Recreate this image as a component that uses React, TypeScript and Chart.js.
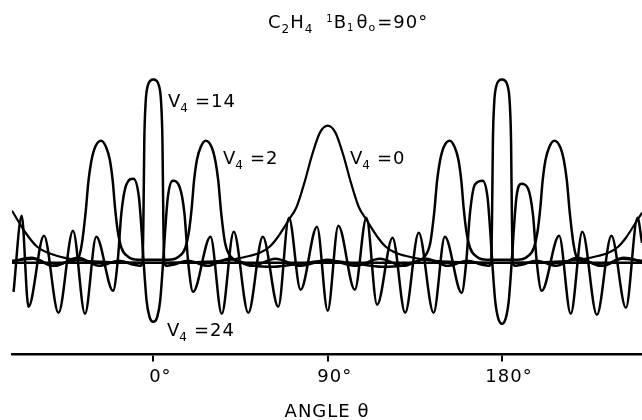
import React, { useEffect, useRef } from "react";
import { Chart, registerables } from "chart.js";

Chart.register(...registerables);

const FONT = '"DejaVu Sans", "Liberation Sans", sans-serif';

// ---- axis ----
const xMin = -73;
const xMax = 252.3;
const yMin = -91.5;
const yMax = 222.5;
const xTickValues = [0, 90, 180];
const xTitle = "ANGLE θ";

// ---- series: [angle θ (deg), amplitude] ----
const v0Points: number[][] = [
  [-73, 52], [-66, 30], [-60, 16], [-50, 7], [-40, 3], [-25, 1], [0, 0], [25, 1], [40, 3],
  [50, 7], [55, 10], [60, 16], [64, 25], [70, 43], [74, 56], [78, 80], [82, 108], [86, 130],
  [90, 137], [94, 130], [98, 108], [102, 80], [106, 56], [110, 43], [116, 25], [120, 16],
  [125, 10], [130, 7], [140, 3], [155, 1], [180, 0], [205, 1], [220, 3], [230, 7], [235, 10],
  [240, 16], [244, 25], [250, 43], [252.3, 50],
];

const v2Points: number[][] = [
  [-73, 2], [-62, 4], [-52, -3], [-44, 1], [-39, 4], [-37, 18], [-35, 50], [-33.5, 82],
  [-32, 102], [-30, 116], [-27, 122], [-24.5, 116], [-22.5, 103], [-21, 82], [-19.8, 55],
  [-18.5, 33], [-16.5, 15], [-13, 6], [-8, 3], [0, 3], [8, 3], [13, 6], [16.5, 15], [18.5, 33],
  [19.8, 55], [21, 82], [22.5, 103], [24.5, 116], [27, 122], [30, 116], [32, 102], [33.5, 82],
  [35, 50], [37, 20], [40, 6], [45, 1], [52, -3], [62, -4], [75, -1], [90, 2], [105, -1],
  [118, -4], [128, -3], [135, 1], [140, 6], [143, 20], [145, 50], [146.5, 82], [148, 102],
  [150, 116], [153, 122], [155.5, 116], [157.5, 103], [159, 82], [160.2, 55], [161.5, 33],
  [163.5, 15], [167, 6], [172, 3], [180, 3], [188, 3], [193, 6], [196.5, 15], [198.5, 33],
  [199.8, 55], [201, 82], [202.5, 103], [204.5, 116], [207, 122], [210, 116], [212, 102],
  [213.5, 82], [215, 50], [217, 18], [219, 4], [224, 1], [232, -3], [242, 4], [252.3, 2],
];

const v14Points: number[][] = [
  [-73, 1], [-63, 5], [-51, -3], [-39, 5], [-28, -3], [-18, 2], [-10, -2], [-7, -3],
  [-5.6, 0], [-5.1, 50], [-4.7, 120], [-4, 160], [-3, 176], [-1.5, 182], [0, 183],
  [1.5, 182], [3, 176], [4, 160], [4.7, 120], [5.1, 50], [5.6, 0], [7, -3], [10, -2],
  [18, 2], [28, -3], [39, 4], [51, -3], [63, 4], [76, -3], [90, 3], [104, -3], [117, 4],
  [129, -3], [141, 4], [152, -3], [162, 2], [170, -2], [173, -3], [174.4, 0], [174.9, 50],
  [175.3, 120], [176, 160], [177, 176], [178.5, 182], [180, 183], [181.5, 182], [183, 176],
  [184, 160], [184.7, 120], [185.1, 50], [185.6, 0], [187, -3], [190, -2], [198, 2],
  [208, -3], [219, 5], [231, -3], [243, 5], [252.3, 1],
];

const v24Points: number[][] = [
  [-72.2, -29], [-68, 47], [-64.5, -44], [-56.5, 27], [-49, -50], [-41.5, 32], [-35.3, -51],
  [-29.5, 26], [-20.8, -28], [-18.5, 0], [-16.5, 50], [-14, 78], [-10.3, 84], [-7.5, 66],
  [-6, 30], [-5, 0], [-3.5, -38], [-2, -54], [0, -59], [2, -54], [3.5, -38], [5, 0],
  [6, 30], [7.5, 66], [10, 82], [13.5, 76], [16, 50], [18, 0], [20.5, -29], [29.5, 26],
  [35.3, -51], [41.5, 31], [49, -50], [56.5, 26], [64.5, -44], [70, 45], [76, -27],
  [84.5, 36], [90, -48], [95.5, 37], [104, -27], [110, 45], [115.5, -42], [123.5, 25],
  [130, -50], [137, 30], [144.7, -50], [150.5, 26], [159.2, -30], [161.5, 0], [163.5, 50],
  [166, 78], [170, 82], [172.5, 66], [174, 30], [175, 0], [176.5, -38], [178, -55],
  [180, -61], [182, -55], [183.5, -38], [185, 0], [186, 30], [187.5, 66], [190, 79],
  [193.5, 74], [196, 48], [198, 0], [200.5, -28], [209.5, 27], [215.5, -51], [221.5, 31],
  [229, -52], [236.5, 27], [244, -45], [250, 45], [252.3, 20],
];

const zeroLine: number[][] = [[-73, 0], [252.3, 0]];

// ---- labels ----
const seriesLevels = ["0", "2", "14", "24"];

type Seg = { t: string; size: number; dy: number; gap?: number };

function drawRich(ctx: CanvasRenderingContext2D, x: number, y: number, segs: Seg[]) {
  let cx = x;
  for (const s of segs) {
    ctx.font = `${s.size}px ${FONT}`;
    cx += s.gap ?? 0;
    ctx.fillText(s.t, cx, y + s.dy);
    cx += ctx.measureText(s.t).width;
  }
}

function vLabel(level: string): Seg[] {
  return [
    { t: "V", size: 18, dy: 0 },
    { t: "4", size: 12, dy: 5, gap: -1 },
    { t: "=" + level, size: 18, dy: 0, gap: 6 },
  ];
}

const textPlugin = {
  id: "figureText",
  beforeDraw(chart: any) {
    (chart.ctx as any).letterSpacing = "1px";
  },
  afterDraw(chart: any) {
    const ctx: CanvasRenderingContext2D = chart.ctx;
    ctx.save();
    (ctx as any).letterSpacing = "1px";
    ctx.fillStyle = "#000";
    ctx.textBaseline = "alphabetic";
    ctx.textAlign = "left";
    // title
    drawRich(ctx, 268, 28, [
      { t: "C", size: 18, dy: 0 },
      { t: "2", size: 12, dy: 5 },
      { t: "H", size: 18, dy: 0 },
      { t: "4", size: 12, dy: 5 },
      { t: "1", size: 10, dy: -6, gap: 13 },
      { t: "B", size: 18, dy: 0 },
      { t: "1", size: 10, dy: 3 },
      { t: "θ", size: 18, dy: 0, gap: 2 },
      { t: "o", size: 11, dy: 3 },
      { t: "=90°", size: 18, dy: 0, gap: 1 },
    ]);
    // series labels
    drawRich(ctx, 350, 164, vLabel(seriesLevels[0]));
    drawRich(ctx, 223, 164, vLabel(seriesLevels[1]));
    drawRich(ctx, 168, 107, vLabel(seriesLevels[2]));
    drawRich(ctx, 167, 336, vLabel(seriesLevels[3]));
    ctx.restore();
  },
};

const toXY = (p: number[][]) => p.map(([x, y]) => ({ x, y }));

export default function App() {
  const ref = useRef<HTMLCanvasElement | null>(null);
  useEffect(() => {
    if (!ref.current) return;
    const line = (label: string, pts: number[][], width = 2.5) => ({
      label,
      data: toXY(pts),
      borderColor: "#000",
      backgroundColor: "#000",
      borderWidth: width,
      pointRadius: 0,
      fill: false,
      cubicInterpolationMode: "monotone" as const,
    });
    const chart = new Chart(ref.current, {
      type: "line",
      data: {
        datasets: [
          line("zero", zeroLine, 2.5),
          line("V4=0", v0Points, 2.2),
          line("V4=2", v2Points, 2.5),
          line("V4=14", v14Points, 2.5),
          line("V4=24", v24Points, 2.5),
        ],
      },
      options: {
        animation: false,
        responsive: false,
        devicePixelRatio: 1,
        parsing: false,
        layout: { padding: { left: 12, right: 0, top: 40, bottom: 0 } },
        plugins: { legend: { display: false }, tooltip: { enabled: false }, title: { display: false } },
        scales: {
          x: {
            type: "linear",
            min: xMin,
            max: xMax,
            afterBuildTicks: (scale: any) => {
              scale.ticks = xTickValues.map((v) => ({ value: v }));
            },
            ticks: {
              autoSkip: false,
              color: "#000",
              padding: 5,
              labelOffset: 7,
              font: { family: FONT, size: 18 },
              callback: (v: any) => `${v}°`,
            },
            grid: {
              display: true,
              drawOnChartArea: false,
              drawTicks: true,
              tickLength: 7,
              color: "#000",
              lineWidth: 2,
            },
            border: { display: true, color: "#000", width: 2.5 },
            title: {
              display: true,
              text: xTitle,
              color: "#000",
              font: { family: FONT, size: 18, lineHeight: 0.8 },
              padding: { top: 12.6, bottom: 0 },
            },
          },
          y: {
            type: "linear",
            display: false,
            min: yMin,
            max: yMax,
          },
        },
      },
      plugins: [textPlugin],
    });
    return () => chart.destroy();
  }, []);
  return (
    <div style={{ position: "absolute", left: 0, top: 0, width: 642, height: 420, background: "#fff" }}>
      <canvas ref={ref} width={642} height={420} style={{ width: 642, height: 420, display: "block" }} />
    </div>
  );
}
